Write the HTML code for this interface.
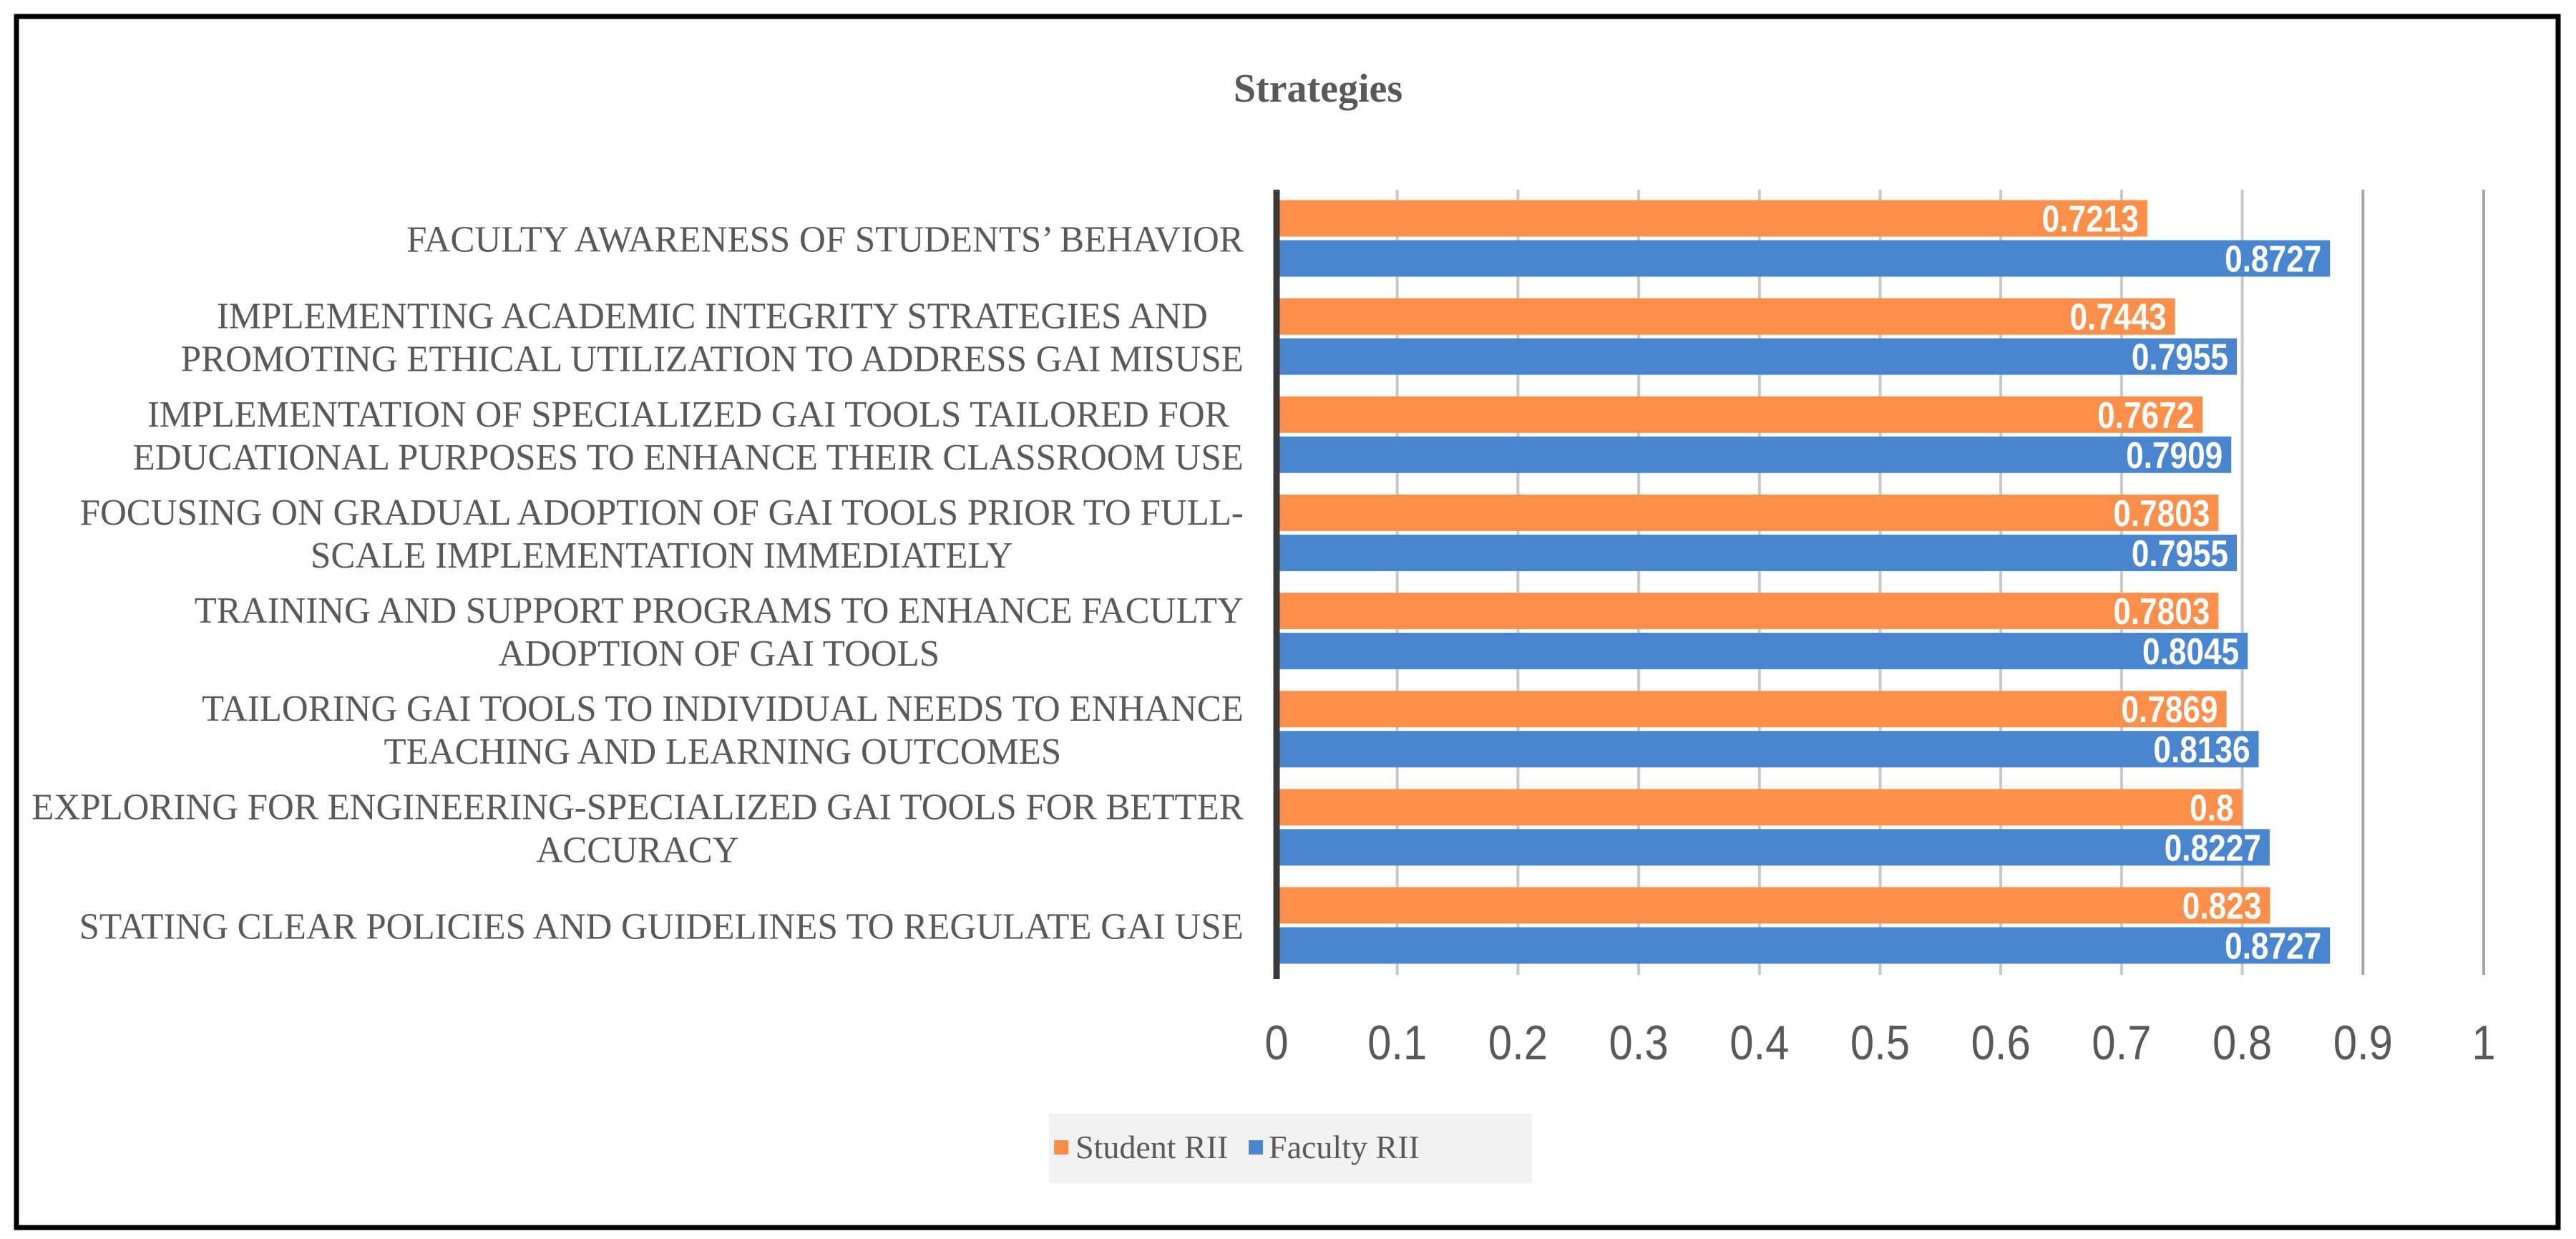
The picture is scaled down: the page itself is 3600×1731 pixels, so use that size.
<!DOCTYPE html>
<html><head><meta charset="utf-8"><style>
html,body{margin:0;padding:0;background:#fff;}
svg{display:block;}
</style></head><body>
<svg id="chart" width="3600" height="1731" viewBox="0 0 3600 1731" xmlns="http://www.w3.org/2000/svg">
<rect x="23" y="23" width="3552" height="1692" fill="#fff" stroke="#000" stroke-width="7"/>
<text x="1842" y="142" text-anchor="middle" font-family="Liberation Serif, serif" font-weight="bold" font-size="56" fill="#595959">Strategies</text>
<g id="grid"></g><g id="bars"></g><g id="labels"></g><g id="ticks"></g>
<line x1="1784" y1="265" x2="1784" y2="1368" stroke="#3a3a3a" stroke-width="9"/>
<g>
<rect x="1466" y="1556" width="675" height="97" fill="#f2f2f2"/>
<rect x="1473" y="1593" width="20" height="20" fill="#fd8f4a"/>
<text x="1503" y="1618" font-family="Liberation Serif, serif" font-size="46" fill="#595959">Student RII</text>
<rect x="1745" y="1593" width="20" height="20" fill="#4a86d0"/>
<text x="1773" y="1618" font-family="Liberation Serif, serif" font-size="46" fill="#595959">Faculty RII</text>
</g>
</svg>
<script>
const categories = [
 ["FACULTY AWARENESS OF STUDENTS’ BEHAVIOR"],
 ["IMPLEMENTING ACADEMIC INTEGRITY STRATEGIES AND","PROMOTING ETHICAL UTILIZATION TO ADDRESS GAI MISUSE"],
 ["IMPLEMENTATION OF SPECIALIZED GAI TOOLS TAILORED FOR","EDUCATIONAL PURPOSES TO ENHANCE THEIR CLASSROOM USE"],
 ["FOCUSING ON GRADUAL ADOPTION OF GAI TOOLS PRIOR TO FULL-","SCALE IMPLEMENTATION IMMEDIATELY"],
 ["TRAINING AND SUPPORT PROGRAMS TO ENHANCE FACULTY","ADOPTION OF GAI TOOLS"],
 ["TAILORING GAI TOOLS TO INDIVIDUAL NEEDS TO ENHANCE","TEACHING AND LEARNING OUTCOMES"],
 ["EXPLORING FOR ENGINEERING-SPECIALIZED GAI TOOLS FOR BETTER","ACCURACY"],
 ["STATING CLEAR POLICIES AND GUIDELINES TO REGULATE GAI USE"]
];
const studentRII = [0.7213,0.7443,0.7672,0.7803,0.7803,0.7869,0.8,0.823];
const facultyRII = [0.8727,0.7955,0.7909,0.7955,0.8045,0.8136,0.8227,0.8727];
const studentLabels = ["0.7213","0.7443","0.7672","0.7803","0.7803","0.7869","0.8","0.823"];
const facultyLabels = ["0.8727","0.7955","0.7909","0.7955","0.8045","0.8136","0.8227","0.8727"];
const tickValues = [0,0.1,0.2,0.3,0.4,0.5,0.6,0.7,0.8,0.9,1];
const tickLabels = ["0","0.1","0.2","0.3","0.4","0.5","0.6","0.7","0.8","0.9","1"];

const NS="http://www.w3.org/2000/svg";
const X0=1784, X1=3471, Y0=265, Y1=1362;
const xs=v=>X0+(X1-X0)*v;
const band=(Y1-Y0)/categories.length;
const yc=i=>Y0+band*(i+0.5);
const BH=51;
function mk(tag,attrs,parent){const e=document.createElementNS(NS,tag);for(const k in attrs)e.setAttribute(k,attrs[k]);parent.appendChild(e);return e;}
const grid=document.getElementById('grid'),bars=document.getElementById('bars'),labels=document.getElementById('labels'),ticks=document.getElementById('ticks');
tickValues.forEach((v,i)=>{
 if(i>0){const l=mk('line',{x1:xs(v),x2:xs(v),y1:Y0,y2:Y1,stroke:i==10||i==9?'#a6a6a6':'#c8c8c8','stroke-width':4},grid);
 
 }
 const t=mk('text',{transform:'translate('+xs(v)+',1480) scale(0.88,1)','text-anchor':'middle','font-family':'Liberation Sans, sans-serif','font-size':68,fill:'#595959'},ticks);
 t.textContent=tickLabels[i];
 
 
});
categories.forEach((lines,i)=>{
 const c=yc(i);
 const sb=mk('rect',{x:X0,y:c-BH-3,width:xs(studentRII[i])-X0,height:BH,fill:'#fd8f4a'},bars);
 
 
 const fb=mk('rect',{x:X0,y:c+2,width:xs(facultyRII[i])-X0,height:BH,fill:'#4a86d0'},bars);
 
 
 const st=mk('text',{transform:'translate('+(xs(studentRII[i])-12)+','+(c-10)+') scale(0.85,1)','text-anchor':'end','font-family':'Liberation Sans, sans-serif','font-weight':'bold','font-size':52,fill:'#fff'},bars);
 st.textContent=studentLabels[i];
 
 
 const ft=mk('text',{transform:'translate('+(xs(facultyRII[i])-12)+','+(c+46)+') scale(0.85,1)','text-anchor':'end','font-family':'Liberation Sans, sans-serif','font-weight':'bold','font-size':52,fill:'#fff'},bars);
 ft.textContent=facultyLabels[i];
 
 
 const g=mk('g',{},labels);
 
 
 const tx=[];
 lines.forEach((ln,j)=>{
  const t=mk('text',{'font-family':'Liberation Serif, serif','font-size':52,fill:'#595959','text-anchor':'middle'},g);
  t.textContent=ln;tx.push(t);
 });
 const SX=0.98;
 let maxW=0;tx.forEach(t=>{maxW=Math.max(maxW,t.getComputedTextLength()*SX);});
 const cx=1738-maxW/2;
 const n=lines.length;
 tx.forEach((t,j)=>{
  const y=c+18+(j-(n-1)/2)*60;
  t.setAttribute('transform','translate('+cx+','+y+') scale('+SX+',1)');
 });
});
</script>
</body></html>
